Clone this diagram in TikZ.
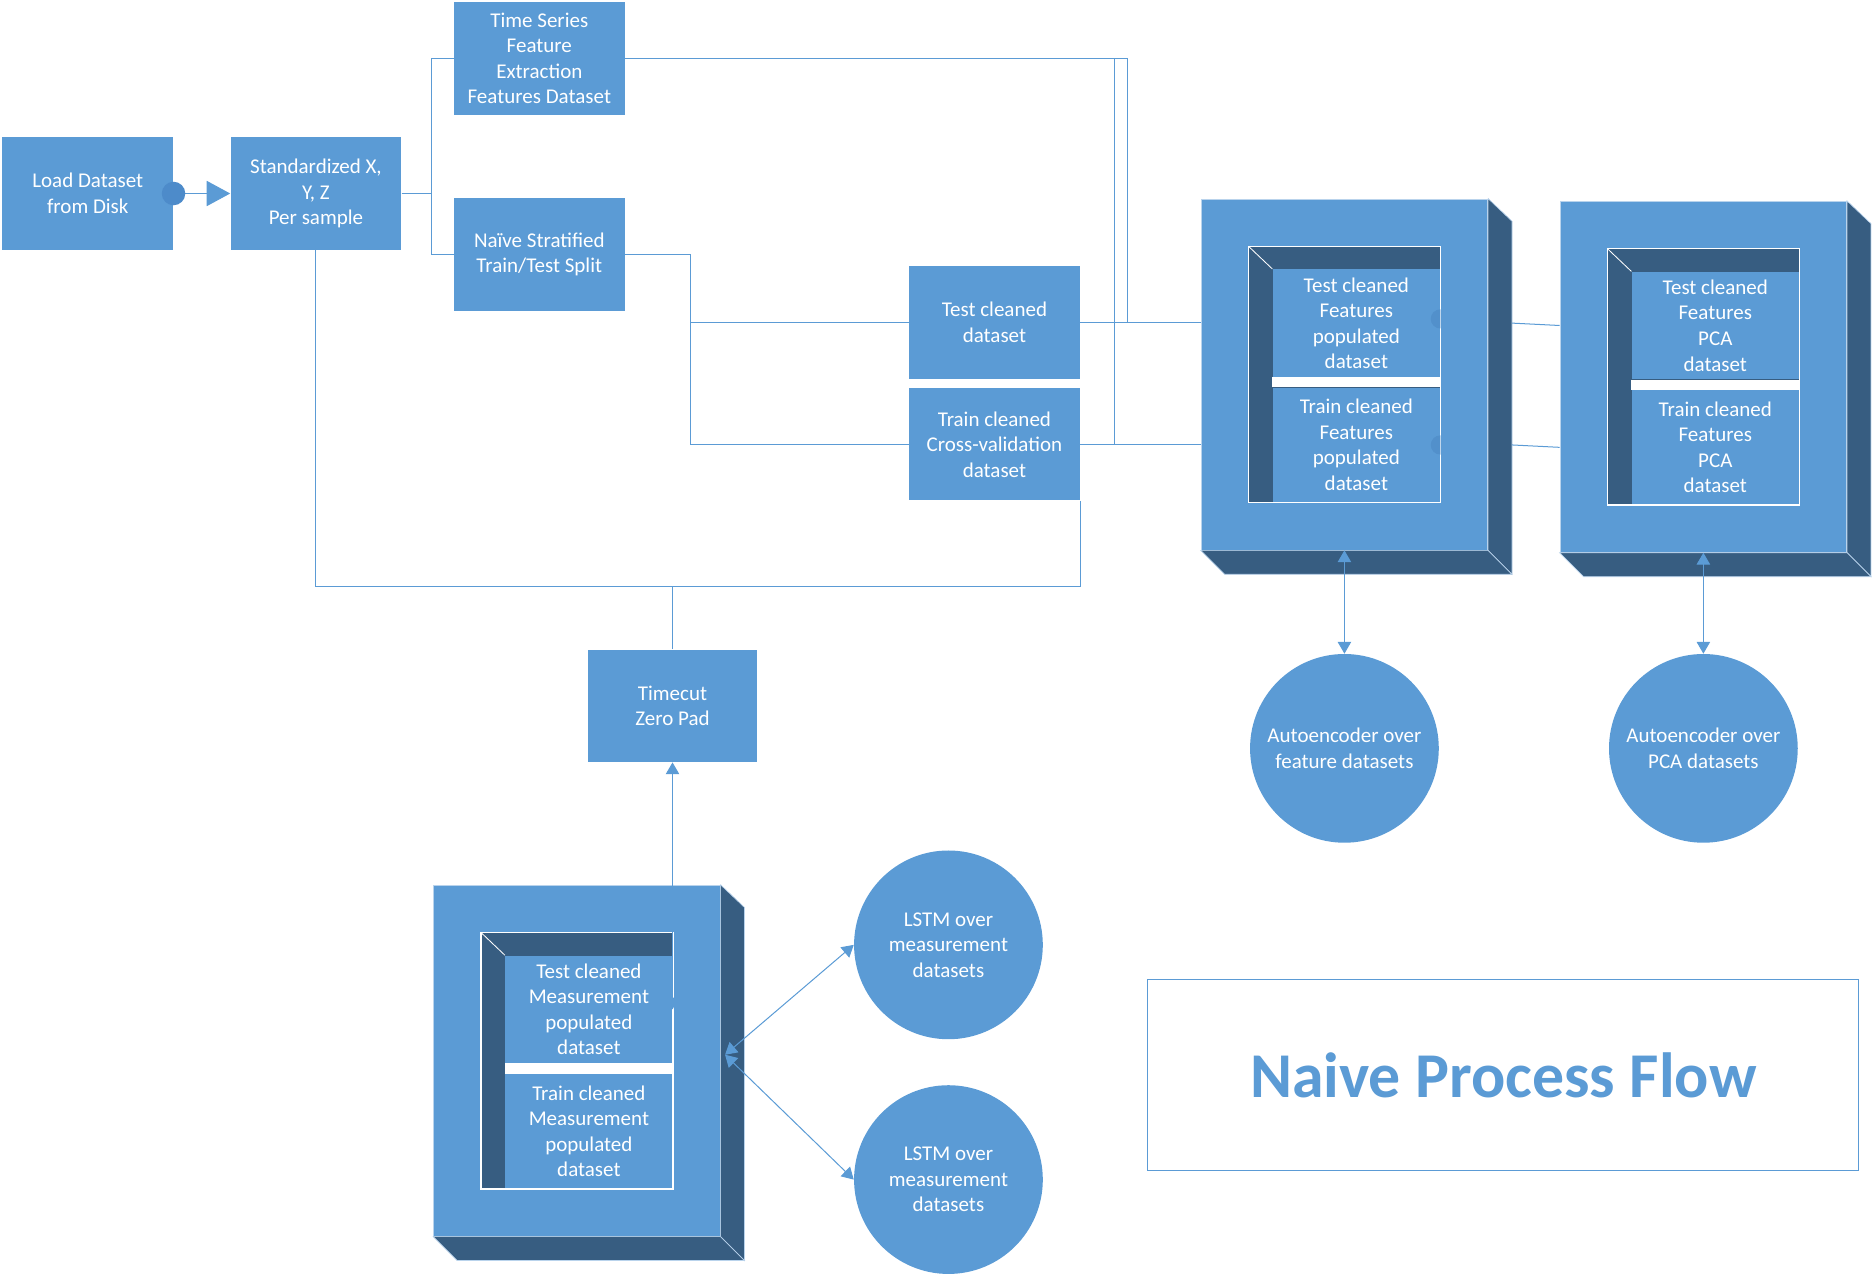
\documentclass[tikz,border=0pt]{standalone}
\usepackage{fontspec}
\setmainfont{Carlito}
\usetikzlibrary{arrows.meta,calc,shapes.geometric}
\definecolor{fillb}{HTML}{5B9BD5}
\definecolor{darkb}{HTML}{375D81}
\definecolor{lineb}{HTML}{5B9BD5}
\definecolor{dotb}{HTML}{4D8BCA}
\definecolor{faintb}{HTML}{5290CB}
\definecolor{edgeb}{HTML}{B9D3EC}
\newcommand{\uu}{0.025cm}
\newcommand{\cube}[5]{%
  \node[frontface] (#1) at (#2,#3) {};
  \filldraw[sideface] (#1.north east) -- ++(20,19) -- ([shift={(20,20)}]#1.south east) -- (#1.south east) -- cycle;
  \filldraw[sideface] (#1.south west) -- (#1.south east) -- ([shift={(20,20)}]#1.south east) -- ([shift={(20,20)}]#1.south west) -- cycle;
  \fill[darkb] ([shift={(40,40)}]#1.north west) rectangle ([shift={(-40,-40)}]#1.south east);
  \node[subbox, minimum height=90*\uu] (#1-t) at ($(#1)+(10,-43)$) {#4};
  \node[subbox, minimum height=96*\uu] (#1-b) at ($(#1)+(10,59)$) {#5};
  \fill[white] (#1-t.south west) rectangle (#1-b.north east);
  \draw[white, line width=0.5pt] ([shift={(40,40)}]#1.north west) -- ++(20,19);
  \draw[white, line width=0.8pt] ([shift={(40,40)}]#1.north west) rectangle ([shift={(-40,-40)}]#1.south east);
}
\begin{document}
\begin{tikzpicture}[x=0.025cm,y=-0.025cm,
  every node/.style={font=\fontsize{12.5}{15.2}\selectfont, text=white, align=center, inner sep=0pt},
  box/.style={rectangle, fill=fillb, minimum width=143*\uu, minimum height=94*\uu},
  subbox/.style={rectangle, fill=fillb, minimum width=140*\uu},
  frontface/.style={rectangle, fill=fillb, draw=edgeb, line width=0.4pt, minimum width=240*\uu, minimum height=294*\uu},
  sideface/.style={fill=darkb, draw=edgeb, line width=0.4pt},
  circ/.style={circle, fill=fillb, minimum size=158*\uu},
  conn/.style={draw=lineb, line width=0.6pt},
  dbl/.style={conn, {Triangle[length=7pt,width=8pt]}-{Triangle[length=7pt,width=8pt]}}
]
\useasboundingbox (0,0) rectangle (1568,1069);

% plain boxes
\node[box] (load) at (73.5,162) {Load Dataset\\from Disk};
\node[box] (std) at (264.5,162) {Standardized X,\\Y, Z\\Per sample};
\node[box] (ts) at (451.5,49) {Time Series\\Feature\\Extraction\\Features Dataset};
\node[box] (split) at (451.5,213) {Na\"ive Stratified\\Train/Test Split};
\node[box] (test) at (832.5,270) {Test cleaned\\dataset};
\node[box] (train) at (832.5,372) {Train cleaned\\Cross-validation\\dataset};
\node[box, minimum width=142*\uu] (timecut) at (563,591) {Timecut\\Zero Pad};

% 3D boxes
\cube{mbox}{483}{888}{Test cleaned\\Measurement\\populated\\dataset}{Train cleaned\\Measurement\\populated\\dataset}
\cube{boxA}{1125.5}{313.5}{Test cleaned\\Features\\populated\\dataset}{Train cleaned\\Features\\populated\\dataset}
\cube{boxB}{1426}{315.5}{Test cleaned\\Features\\PCA\\dataset}{Train cleaned\\Features\\PCA\\dataset}

% faint connection points
\begin{scope}
  \clip (boxA-t.north west) rectangle (boxA-t.south east);
  \fill[faintb] ([yshift=2.5pt]boxA-t.east) circle[radius=5.7pt];
\end{scope}
\begin{scope}
  \clip (boxA-b.north west) rectangle (boxA-b.south east);
  \fill[faintb] (boxA-b.east) circle[radius=5.7pt];
\end{scope}

% circles
\node[circ] (lstm1) at (794,791) {LSTM over\\measurement\\datasets};
\node[circ] (lstm2) at (794,987.5) {LSTM over\\measurement\\datasets};
\node[circ] (auto1) at (1125.5,626.5) {Autoencoder over\\feature datasets};
\node[circ] (auto2) at (1426,626.5) {Autoencoder over\\PCA datasets};

% title
\node[rectangle, draw=lineb, line width=0.6pt, fill=white, minimum width=595*\uu, minimum height=160*\uu,
      text=fillb, font=\fontsize{38}{44}\selectfont\bfseries] (title) at (1258.5,900) {Naive Process Flow};

% connectors
\draw[conn, -{Triangle[length=14pt,width=15pt]}] (load.east) -- (std.west);
\fill[dotb] (load.east) circle[radius=7pt];

\draw[conn] (std.east) -- ++(25,0) |- (ts.west);
\draw[conn] (std.east) -- ++(25,0) |- (split.west);

\draw[conn] (ts.east) -- (944,49) |- (test.east -| boxA.west);
\draw[conn] (ts.east) -| (933,372) -- (train.east -| boxA.west);

\draw[conn] (split.east) -- ++(55,0) |- (test.west);
\draw[conn] (split.east) -- ++(55,0) |- (train.west);

\draw[conn] (test.east) -- (test.east -| boxA.west);
\draw[conn] (train.east) -- (train.east -| boxA.west);

\draw[conn] (std.south) -- ++(0,282) -| (train.south east);
\draw[conn] (timecut.north) -- ++(0,-53);

\draw[conn] ([xshift=20*\uu]boxA.east |- boxA-t.east) -- (boxB.west |- boxB-t.east);
\draw[conn] ([xshift=20*\uu]boxA.east |- boxA-b.east) -- (boxB.west |- boxB-b.east);

\coordinate (mtip) at (563,845);
\draw[dbl] (timecut.south) -- (mtip);
\coordinate (mside) at (607,883);
\draw[dbl] (mside) -- (lstm1.west);
\draw[dbl] (mside) -- (lstm2.west);

\draw[dbl] (boxA.south) -- (auto1.north);
\draw[dbl] (boxB.south) -- (auto2.north);
\end{tikzpicture}
\end{document}
